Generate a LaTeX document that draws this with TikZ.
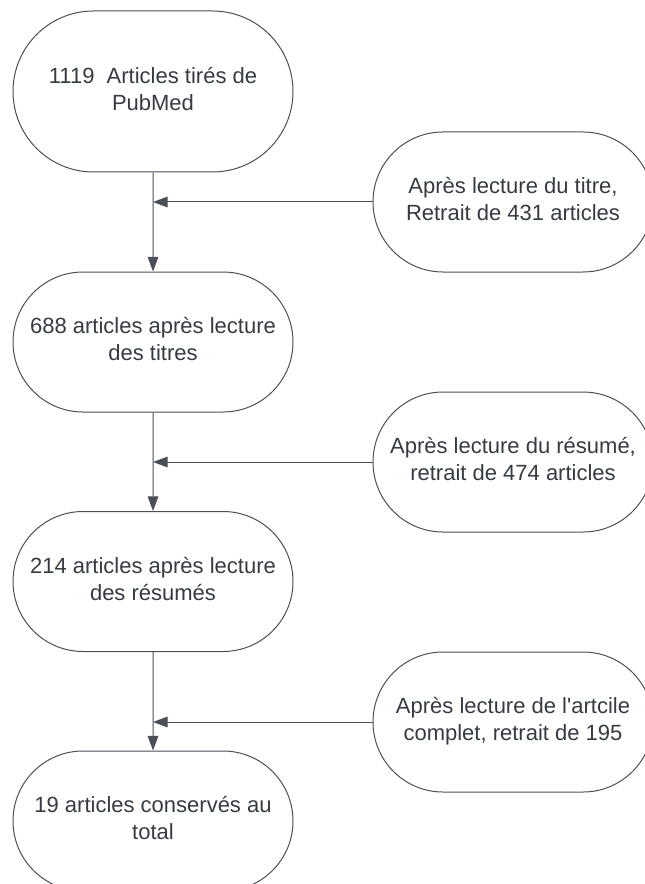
\documentclass[tikz,border=0pt]{standalone}
\usepackage{fontspec}
\setmainfont{Liberation Sans}
\usetikzlibrary{arrows.meta, positioning, shapes.misc}
\definecolor{flowline}{HTML}{4A4F57}
\definecolor{flowtext}{HTML}{353B43}
\newcommand{\stagetext}[1]{\raisebox{3pt}{\begin{tabular}{@{}c@{}}#1\end{tabular}}}

\begin{document}
\begin{tikzpicture}[x=0.75pt, y=-0.75pt,
    stagebox/.style={rounded rectangle, draw=flowline, line width=0.75pt,
      minimum width=210pt, minimum height=105pt, inner sep=0pt,
      text=flowtext, font=\fontsize{16.5}{20.25}\selectfont},
    flow/.style={draw=flowline, line width=0.75pt,
      -{Triangle[length=11pt, width=8pt]}}]
  \clip (0,0) rectangle (645,884);
  % main stages
  \node[stagebox, minimum height=120.75pt] (pubmed) at (153,91.5)
    {\stagetext{1119\ \ Articles tirés de\\PubMed}};
  \node[stagebox] (titres) at (153,342)
    {\stagetext{688 articles après lecture\\des titres}};
  \node[stagebox] (resumes) at (153,581.5)
    {\stagetext{214 articles après lecture\\des résumés}};
  \node[stagebox] (total) at (153,821)
    {\stagetext{19 articles conservés au\\total}};
  % exclusions
  \node[stagebox] (extitre) at (513,202)
    {\stagetext{Après lecture du titre,\\Retrait de 431 articles}};
  \node[stagebox] (exresume) at (513,462)
    {\stagetext{Après lecture du résumé,\\retrait de 474 articles}};
  \node[stagebox] (excomplet) at (513,722)
    {\stagetext{Après lecture de l\textquotesingle artcile\\complet, retrait de 195}};
  % junctions on the main line
  \coordinate (jtitre) at (pubmed.south |- extitre.west);
  \coordinate (jresume) at (titres.south |- exresume.west);
  \coordinate (jcomplet) at (resumes.south |- excomplet.west);
  \draw[flow] (pubmed) -- (titres);
  \draw[flow] (titres) -- (resumes);
  \draw[flow] (resumes) -- (total);
  \draw[flow] (extitre) -- (jtitre);
  \draw[flow] (exresume) -- (jresume);
  \draw[flow] (excomplet) -- (jcomplet);
\end{tikzpicture}
\end{document}
